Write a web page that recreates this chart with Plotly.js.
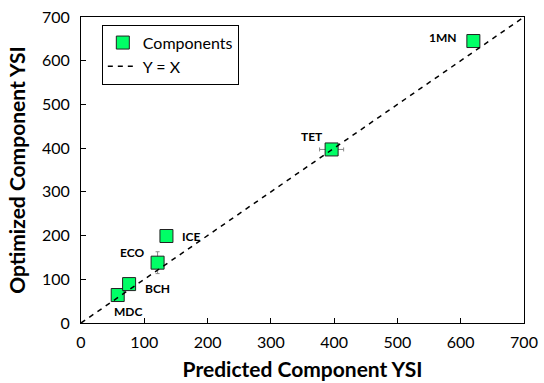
<!DOCTYPE html>
<html><head><meta charset="utf-8">
<script src="https://cdn.plot.ly/plotly-3.0.1.min.js"></script>
<style>html,body{margin:0;padding:0;background:#fff}#c{width:544px;height:383px}</style>
</head><body><div id="c"></div>
<script>
const names = ["MDC","BCH","ECO","ICE","TET","1MN"];
const predicted = [58, 76, 121, 135, 396, 620];
const optimized = [64, 89, 138, 199, 397, 645];
const errX = [0, 0, 0, 5, 19, 6];
const errY = [0, 5, 25, 6, 5, 4];
const lineXY = [0, 700];
const labelShiftX = [10, 28, -26, 25, -20, -30];
const labelShiftY = [-16, -4, 10, 0, 13, 4];

const FONT = "Lato, 'Open Sans', sans-serif";
const traces = [
  {
    x: predicted, y: optimized, type: "scatter", mode: "markers", name: "Components",
    marker: {symbol: "square", size: 13, color: "#00FF66", line: {color: "#222", width: 1}},
    error_x: {type: "data", array: errX, visible: true, color: "#888", thickness: 1, width: 2},
    error_y: {type: "data", array: errY, visible: true, color: "#888", thickness: 1, width: 2}
  },
  {
    x: lineXY, y: lineXY, type: "scatter", mode: "lines", name: "Y = X",
    line: {color: "#000", width: 1.5, dash: "5px,5px"}
  }
];
const annotations = names.map((n, i) => ({
  x: predicted[i], y: optimized[i], xref: "x", yref: "y", text: "<b>" + n + "</b>",
  showarrow: false, xshift: labelShiftX[i], yshift: labelShiftY[i],
  font: {family: FONT, size: 12, color: "#000"}
}));
const layout = {
  width: 544, height: 383,
  margin: {l: 81, r: 20, t: 17, b: 60},
  paper_bgcolor: "#fff", plot_bgcolor: "#fff",
  font: {family: FONT, size: 15, color: "#000"},
  showlegend: true,
  legend: {x: 0.047, y: 0.975, xanchor: "left", yanchor: "top", bordercolor: "#000", borderwidth: 1,
           bgcolor: "#fff", font: {family: FONT, size: 16}, tracegroupgap: 4},
  xaxis: {range: [0, 700], dtick: 100, ticks: "inside", ticklen: 5, tickcolor: "#000", ticklabelstandoff: 5,
          showline: true, linecolor: "#000", linewidth: 1, mirror: true, showgrid: false, zeroline: false,
          tickfont: {family: FONT, size: 16},
          title: {text: "<b>Predicted Component YSI</b>", font: {family: FONT, size: 21}, standoff: 12}},
  yaxis: {range: [0, 700], dtick: 100, ticks: "inside", ticklen: 5, tickcolor: "#000", ticklabelstandoff: 7,
          showline: true, linecolor: "#000", linewidth: 1, mirror: true, showgrid: false, zeroline: false,
          tickfont: {family: FONT, size: 16},
          title: {text: "<b>Optimized Component YSI</b>", font: {family: FONT, size: 21}, standoff: 10}},
  annotations: annotations
};
Plotly.newPlot("c", traces, layout, {staticPlot: true});
</script></body></html>
